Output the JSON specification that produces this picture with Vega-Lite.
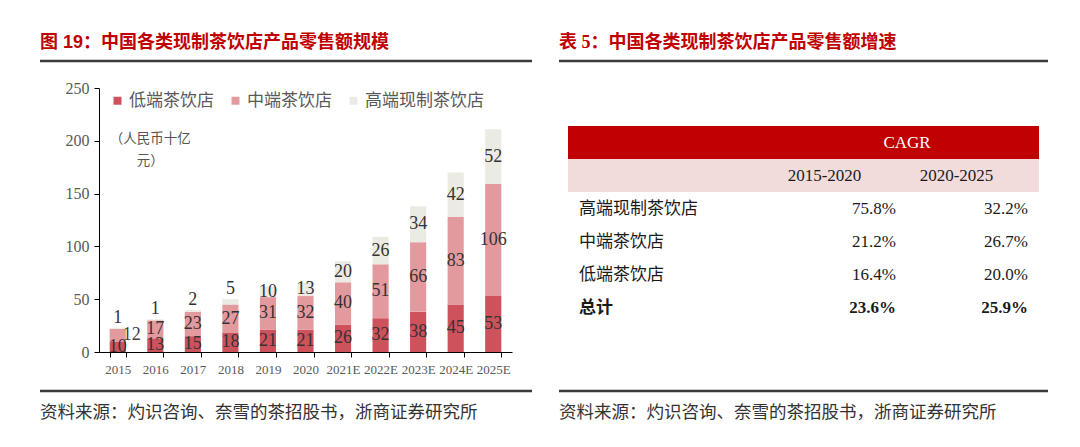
{
  "$schema": "https://vega.github.io/schema/vega-lite/v6.json",
  "background": "white",
  "padding": {"left": 38, "top": 33, "right": 20, "bottom": 10},
  "config": {
    "view": {"stroke": null},
    "font": "Liberation Serif, Noto Sans CJK SC"
  },
  "datasets": {
    "bars": [
      {"year": "2015", "cat": "低端茶饮店", "rank": 1, "value": 10},
      {"year": "2015", "cat": "中端茶饮店", "rank": 2, "value": 12},
      {"year": "2015", "cat": "高端现制茶饮店", "rank": 3, "value": 1},
      {"year": "2016", "cat": "低端茶饮店", "rank": 1, "value": 13},
      {"year": "2016", "cat": "中端茶饮店", "rank": 2, "value": 17},
      {"year": "2016", "cat": "高端现制茶饮店", "rank": 3, "value": 1},
      {"year": "2017", "cat": "低端茶饮店", "rank": 1, "value": 15},
      {"year": "2017", "cat": "中端茶饮店", "rank": 2, "value": 23},
      {"year": "2017", "cat": "高端现制茶饮店", "rank": 3, "value": 2},
      {"year": "2018", "cat": "低端茶饮店", "rank": 1, "value": 18},
      {"year": "2018", "cat": "中端茶饮店", "rank": 2, "value": 27},
      {"year": "2018", "cat": "高端现制茶饮店", "rank": 3, "value": 5},
      {"year": "2019", "cat": "低端茶饮店", "rank": 1, "value": 21},
      {"year": "2019", "cat": "中端茶饮店", "rank": 2, "value": 31},
      {"year": "2019", "cat": "高端现制茶饮店", "rank": 3, "value": 10},
      {"year": "2020", "cat": "低端茶饮店", "rank": 1, "value": 21},
      {"year": "2020", "cat": "中端茶饮店", "rank": 2, "value": 32},
      {"year": "2020", "cat": "高端现制茶饮店", "rank": 3, "value": 13},
      {"year": "2021E", "cat": "低端茶饮店", "rank": 1, "value": 26},
      {"year": "2021E", "cat": "中端茶饮店", "rank": 2, "value": 40},
      {"year": "2021E", "cat": "高端现制茶饮店", "rank": 3, "value": 20},
      {"year": "2022E", "cat": "低端茶饮店", "rank": 1, "value": 32},
      {"year": "2022E", "cat": "中端茶饮店", "rank": 2, "value": 51},
      {"year": "2022E", "cat": "高端现制茶饮店", "rank": 3, "value": 26},
      {"year": "2023E", "cat": "低端茶饮店", "rank": 1, "value": 38},
      {"year": "2023E", "cat": "中端茶饮店", "rank": 2, "value": 66},
      {"year": "2023E", "cat": "高端现制茶饮店", "rank": 3, "value": 34},
      {"year": "2024E", "cat": "低端茶饮店", "rank": 1, "value": 45},
      {"year": "2024E", "cat": "中端茶饮店", "rank": 2, "value": 83},
      {"year": "2024E", "cat": "高端现制茶饮店", "rank": 3, "value": 42},
      {"year": "2025E", "cat": "低端茶饮店", "rank": 1, "value": 53},
      {"year": "2025E", "cat": "中端茶饮店", "rank": 2, "value": 106},
      {"year": "2025E", "cat": "高端现制茶饮店", "rank": 3, "value": 52}
    ],
    "cagr": [
      {"row": "高端现制茶饮店", "col": "2015-2020", "cagr": 0.758},
      {"row": "高端现制茶饮店", "col": "2020-2025", "cagr": 0.322},
      {"row": "中端茶饮店", "col": "2015-2020", "cagr": 0.212},
      {"row": "中端茶饮店", "col": "2020-2025", "cagr": 0.267},
      {"row": "低端茶饮店", "col": "2015-2020", "cagr": 0.164},
      {"row": "低端茶饮店", "col": "2020-2025", "cagr": 0.200},
      {"row": "总计", "col": "2015-2020", "cagr": 0.236},
      {"row": "总计", "col": "2020-2025", "cagr": 0.259}
    ]
  },
  "hconcat": [
    {
      "vconcat": [
        {
          "width": 492,
          "height": 1,
          "title": {"text": "图 19：中国各类现制茶饮店产品零售额规模", "anchor": "start", "frame": "group", "orient": "top", "font": "Liberation Sans, Noto Sans CJK SC", "fontSize": 18, "fontWeight": "bold", "color": "#c00000", "baseline": "bottom", "offset": -10},
          "data": {"values": [{"v": 0}]},
          "mark": {"type": "rule", "color": "#3a3a3a", "strokeWidth": 2.5},
          "encoding": {"y": {"field": "v", "type": "quantitative", "scale": {"domain": [0, 1]}, "axis": null}}
        },
        {
          "width": 492,
          "height": 264,
          "data": {"name": "bars"},
          "layer": [
            {
              "mark": {"type": "bar"},
              "encoding": {
                "x": {"field": "year", "type": "ordinal", "sort": null,
                  "scale": {"range": [59, 472], "paddingInner": 0.57, "paddingOuter": 0.285},
                  "axis": {"title": null, "tickBand": "extent", "labelAngle": 0, "labelOverlap": false, "labelFont": "Liberation Serif", "labelFontSize": 13, "labelColor": "#595959", "domainColor": "#000000", "tickColor": "#000000", "tickSize": 5, "labelPadding": 6}},
                "y": {"field": "value", "type": "quantitative", "stack": "zero",
                  "scale": {"domain": [0, 250], "nice": false},
                  "axis": {"title": null, "values": [0, 50, 100, 150, 200, 250], "offset": -59, "grid": false, "labelFont": "Liberation Serif", "labelFontSize": 16, "labelColor": "#595959", "domainColor": "#000000", "tickColor": "#000000", "tickSize": 5, "labelPadding": 5}},
                "color": {"field": "cat", "type": "nominal",
                  "scale": {"domain": ["低端茶饮店", "中端茶饮店", "高端现制茶饮店"], "range": ["#cd525b", "#e39a9e", "#ecebe3"]},
                  "legend": {"title": null, "orient": "none", "legendX": 69, "legendY": 4, "direction": "horizontal", "symbolType": "square", "symbolSize": 64, "symbolStrokeWidth": 0, "labelFont": "Noto Sans CJK SC", "labelFontSize": 17, "labelColor": "#595959", "labelOffset": 3, "columnPadding": 13, "padding": 0}},
                "order": {"field": "rank", "type": "quantitative"}
              }
            },
            {
              "mark": {"type": "text", "font": "Liberation Serif", "fontSize": 18, "color": "#333333", "baseline": "middle"},
              "encoding": {
                "x": {"field": "year", "type": "ordinal", "sort": null},
                "y": {"field": "value", "type": "quantitative", "stack": "zero", "bandPosition": 0.5},
                "detail": {"field": "cat", "type": "nominal"},
                "order": {"field": "rank", "type": "quantitative"},
                "text": {"condition": {"test": "!(datum.rank == 3 && datum.value < 6) && !(datum.rank == 2 && datum.value < 15)", "field": "value", "type": "quantitative"}, "value": ""}
              }
            },
            {
              "mark": {"type": "text", "font": "Liberation Serif", "fontSize": 18, "color": "#333333", "baseline": "bottom", "dy": -1},
              "encoding": {
                "x": {"field": "year", "type": "ordinal", "sort": null},
                "y": {"field": "value", "type": "quantitative", "stack": "zero", "bandPosition": 1},
                "detail": {"field": "cat", "type": "nominal"},
                "order": {"field": "rank", "type": "quantitative"},
                "text": {"condition": {"test": "datum.rank == 3 && datum.value < 6", "field": "value", "type": "quantitative"}, "value": ""}
              }
            },
            {
              "mark": {"type": "text", "font": "Liberation Serif", "fontSize": 18, "color": "#404040", "baseline": "middle", "dx": 14},
              "encoding": {
                "x": {"field": "year", "type": "ordinal", "sort": null},
                "y": {"field": "value", "type": "quantitative", "stack": "zero", "bandPosition": 0.5},
                "detail": {"field": "cat", "type": "nominal"},
                "order": {"field": "rank", "type": "quantitative"},
                "text": {"condition": {"test": "datum.rank == 2 && datum.value < 15", "field": "value", "type": "quantitative"}, "value": ""}
              }
            },
            {
              "data": {"values": [{"year": "2016", "v": 202, "note": "（人民币十亿\n元）"}]},
              "mark": {"type": "text", "font": "Noto Sans CJK SC", "fontSize": 13.5, "color": "#555555", "lineBreak": "\n", "lineHeight": 22, "baseline": "middle", "dx": -5},
              "encoding": {
                "x": {"field": "year", "type": "ordinal"},
                "y": {"field": "v", "type": "quantitative"},
                "text": {"field": "note"}
              }
            }
          ]
        },
        {
          "width": 492,
          "height": 12,
          "title": {"text": "资料来源：灼识咨询、奈雪的茶招股书，浙商证券研究所", "anchor": "start", "frame": "group", "orient": "bottom", "font": "Noto Sans CJK SC", "fontSize": 17.5, "fontWeight": "normal", "color": "#333333", "baseline": "top", "offset": 12},
          "data": {"values": [{"v": 0}]},
          "mark": {"type": "rule", "color": "#3a3a3a", "strokeWidth": 2.5},
          "encoding": {"y": {"field": "v", "type": "quantitative", "scale": {"domain": [0, 1]}, "axis": null}}
        }
      ],
      "spacing": 27,
      "bounds": "flush",
      "resolve": {"scale": {"x": "independent", "y": "independent", "color": "independent"}}
    },
    {
      "vconcat": [
        {
          "width": 489,
          "height": 1,
          "title": {"text": "表 5：中国各类现制茶饮店产品零售额增速", "anchor": "start", "frame": "group", "orient": "top", "font": "Liberation Serif, Noto Sans CJK SC", "fontSize": 18, "fontWeight": "bold", "color": "#c00000", "baseline": "bottom", "offset": -10},
          "data": {"values": [{"v": 0}]},
          "mark": {"type": "rule", "color": "#3a3a3a", "strokeWidth": 2.5},
          "encoding": {"y": {"field": "v", "type": "quantitative", "scale": {"domain": [0, 1]}, "axis": null}}
        },
        {
          "width": 471,
          "height": 198,
          "encoding": {
            "y": {"field": "row", "type": "nominal", "sort": null,
              "scale": {"domain": ["CAGR", "区间", "高端现制茶饮店", "中端茶饮店", "低端茶饮店", "总计"], "paddingInner": 0, "paddingOuter": 0},
              "axis": null}
          },
          "layer": [
            {
              "data": {"values": [{"row": "CAGR"}, {"row": "区间"}]},
              "mark": {"type": "rect"},
              "encoding": {
                "color": {"field": "row", "type": "nominal", "scale": {"domain": ["CAGR", "区间"], "range": ["#c00000", "#f2dcdb"]}, "legend": null}
              }
            },
            {
              "data": {"values": [{"row": "CAGR", "col": "2020-2025", "t": "CAGR"}]},
              "mark": {"type": "text", "font": "Liberation Serif", "fontSize": 17, "color": "#ffffff", "align": "center", "baseline": "middle", "dx": 37.5},
              "encoding": {
                "x": {"field": "col", "type": "nominal", "bandPosition": 0,
                  "scale": {"type": "band", "domain": ["类别", "2015-2020", "2020-2025"], "paddingInner": 0, "paddingOuter": 0.284}, "axis": null},
                "text": {"field": "t"}
              }
            },
            {
              "data": {"values": [{"row": "区间", "col": "2015-2020"}, {"row": "区间", "col": "2020-2025"}]},
              "mark": {"type": "text", "font": "Liberation Serif", "fontSize": 17, "color": "#1a1a1a", "align": "center", "baseline": "middle", "dx": 21},
              "encoding": {
                "x": {"field": "col", "type": "nominal", "bandPosition": 0.5},
                "text": {"field": "col"}
              }
            },
            {
              "data": {"name": "cagr"},
              "transform": [{"filter": "datum.col == '2015-2020' && datum.row != '总计'"}],
              "mark": {"type": "text", "font": "Noto Sans CJK SC", "fontSize": 17, "color": "#1a1a1a", "align": "left", "baseline": "middle", "dx": -26.5},
              "encoding": {
                "x": {"datum": "类别", "type": "nominal", "bandPosition": 0},
                "text": {"field": "row"}
              }
            },
            {
              "data": {"name": "cagr"},
              "transform": [{"filter": "datum.col == '2015-2020' && datum.row == '总计'"}],
              "mark": {"type": "text", "font": "Noto Sans CJK SC", "fontSize": 17, "fontWeight": "bold", "color": "#1a1a1a", "align": "left", "baseline": "middle", "dx": -26.5},
              "encoding": {
                "x": {"datum": "类别", "type": "nominal", "bandPosition": 0},
                "text": {"field": "row"}
              }
            },
            {
              "data": {"name": "cagr"},
              "transform": [{"filter": "datum.row != '总计'"}],
              "mark": {"type": "text", "font": "Liberation Serif", "fontSize": 17, "color": "#1a1a1a", "align": "right", "baseline": "middle", "dx": 26.5},
              "encoding": {
                "x": {"field": "col", "type": "nominal", "bandPosition": 1},
                "text": {"field": "cagr", "type": "quantitative", "format": ".1%"}
              }
            },
            {
              "data": {"name": "cagr"},
              "transform": [{"filter": "datum.row == '总计'"}],
              "mark": {"type": "text", "font": "Liberation Serif", "fontSize": 17, "fontWeight": "bold", "color": "#1a1a1a", "align": "right", "baseline": "middle", "dx": 26.5},
              "encoding": {
                "x": {"field": "col", "type": "nominal", "bandPosition": 1},
                "text": {"field": "cagr", "type": "quantitative", "format": ".1%"}
              }
            }
          ]
        },
        {
          "width": 489,
          "height": 2,
          "title": {"text": "资料来源：灼识咨询、奈雪的茶招股书，浙商证券研究所", "anchor": "start", "frame": "group", "orient": "bottom", "font": "Noto Sans CJK SC", "fontSize": 17.5, "fontWeight": "normal", "color": "#333333", "baseline": "top", "offset": 12},
          "data": {"values": [{"v": 0}]},
          "mark": {"type": "rule", "color": "#3a3a3a", "strokeWidth": 2.5},
          "encoding": {"y": {"field": "v", "type": "quantitative", "scale": {"domain": [0, 1]}, "axis": null}}
        }
      ],
      "spacing": 65,
      "bounds": "flush",
      "center": true,
      "resolve": {"scale": {"x": "independent", "y": "independent", "color": "independent"}}
    }
  ],
  "spacing": 23,
  "resolve": {"scale": {"x": "independent", "y": "independent", "color": "independent"}, "legend": {"color": "independent"}}
}
